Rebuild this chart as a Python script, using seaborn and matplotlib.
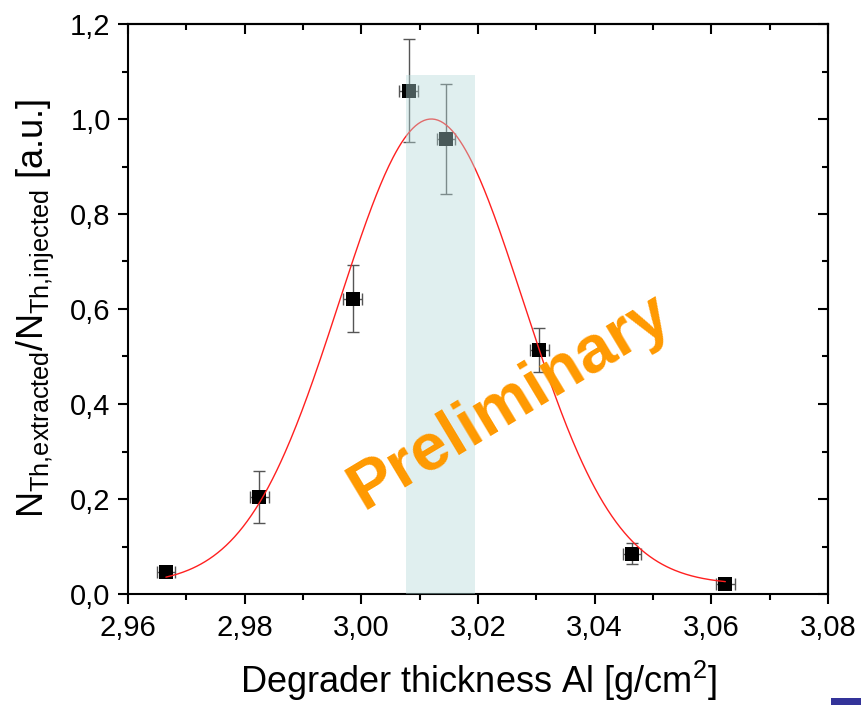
import numpy as np
import pandas as pd
import matplotlib
matplotlib.use("Agg")
import matplotlib.pyplot as plt
from matplotlib.patches import Rectangle
from matplotlib.ticker import FuncFormatter, MultipleLocator
import seaborn as sns

# Measured transmission vs. degrader thickness
thickness = [2.9665, 2.9825, 2.9985, 3.0081, 3.0145, 3.0305, 3.0464, 3.0624]
ratio = [0.046, 0.205, 0.622, 1.060, 0.958, 0.514, 0.085, 0.022]
ratio_err = [0.010, 0.055, 0.070, 0.108, 0.115, 0.046, 0.022, 0.006]
thickness_err = [0.0016] * 8

# Gaussian fit parameters
fit_offset = 0.02
fit_amplitude = 0.98
fit_centre = 3.012
fit_sigma = 0.0158

# Selected thickness window
window_lo, window_hi, window_top = 3.0077, 3.0195, 1.093

df = pd.DataFrame({"thickness": thickness, "ratio": ratio,
                   "ratio_err": ratio_err, "thickness_err": thickness_err})

xfit = np.linspace(min(thickness), max(thickness), 400)
fit_df = pd.DataFrame({
    "thickness": xfit,
    "ratio": fit_offset + fit_amplitude * np.exp(-(xfit - fit_centre) ** 2 / (2 * fit_sigma ** 2)),
})

sns.set_theme(style="ticks")
plt.rcParams["font.family"] = ["Liberation Sans", "DejaVu Sans"]
plt.rcParams["mathtext.fontset"] = "custom"
plt.rcParams["mathtext.rm"] = "Liberation Sans"
plt.rcParams["mathtext.it"] = "Liberation Sans"
plt.rcParams["axes.linewidth"] = 1.5
plt.rcParams["text.color"] = "black"
plt.rcParams["axes.labelcolor"] = "black"

fig = plt.figure(figsize=(8.62, 7.05), dpi=100)
ax = fig.add_axes([128 / 862, 1 - 594 / 705, 700 / 862, 570 / 705])

ax.errorbar(df["thickness"], df["ratio"], yerr=df["ratio_err"], xerr=df["thickness_err"],
            fmt="none", ecolor="#555555", elinewidth=1.0, capsize=4.5, capthick=1.0, zorder=2)
sns.scatterplot(data=df, x="thickness", y="ratio", marker="s", s=95, color="black",
                edgecolor="black", linewidth=0, ax=ax, zorder=3, legend=False)
sns.lineplot(data=fit_df, x="thickness", y="ratio", color="#ff2020", linewidth=1.0,
             ax=ax, zorder=4, legend=False)

ax.add_patch(Rectangle((window_lo, 0), window_hi - window_lo, window_top,
                       facecolor="#b4dada", alpha=0.41, edgecolor="none", zorder=5))

ax.text(3.0255, 0.405, "Preliminary", color="#ff9900", fontsize=48, fontweight="bold",
        rotation=31, ha="center", va="center", rotation_mode="anchor", zorder=6)

ax.set_xlim(2.96, 3.08)
ax.set_ylim(0.0, 1.2)
ax.xaxis.set_major_locator(MultipleLocator(0.02))
ax.xaxis.set_minor_locator(MultipleLocator(0.01))
ax.yaxis.set_major_locator(MultipleLocator(0.2))
ax.yaxis.set_minor_locator(MultipleLocator(0.1))
ax.xaxis.set_major_formatter(FuncFormatter(lambda v, p: f"{v:.2f}".replace(".", ",")))
ax.yaxis.set_major_formatter(FuncFormatter(lambda v, p: f"{v:.1f}".replace(".", ",")))

ax.tick_params(which="major", direction="out", length=7.5, width=1.5, labelsize=21,
               colors="black", labelcolor="black", top=False, right=False)
ax.tick_params(axis="x", which="major", pad=7)
ax.tick_params(axis="y", which="major", pad=5)
ax.tick_params(which="minor", direction="out", length=4.5, width=1.5, colors="black",
               top=False, right=False)

# Inward ticks on the top and right frame
top = ax.secondary_xaxis("top")
top.xaxis.set_major_locator(MultipleLocator(0.02))
top.xaxis.set_minor_locator(MultipleLocator(0.01))
top.tick_params(which="major", direction="in", length=7.5, width=1.5, colors="black", labeltop=False)
top.tick_params(which="minor", direction="in", length=4.5, width=1.5, colors="black")
right = ax.secondary_yaxis("right")
right.yaxis.set_major_locator(MultipleLocator(0.2))
right.yaxis.set_minor_locator(MultipleLocator(0.1))
right.tick_params(which="major", direction="in", length=7.5, width=1.5, colors="black", labelright=False)
right.tick_params(which="minor", direction="in", length=4.5, width=1.5, colors="black")
for sec in (top, right):
    for sp in sec.spines.values():
        sp.set_linewidth(1.5)
        sp.set_color("black")

for sp in ax.spines.values():
    sp.set_visible(True)
    sp.set_linewidth(1.5)
    sp.set_color("black")

ax.set_xlabel(r"Degrader thickness Al [g/cm$^{2}$]", fontsize=26, labelpad=12, color="black")
ax.set_ylabel(r"N$_{\mathrm{Th{,}extracted}}$/N$_{\mathrm{Th{,}injected}}$ [a.u.]",
              fontsize=26, labelpad=10, color="black")

fig.patches.append(Rectangle((831 / 862, 0), 31 / 862, 7 / 705, transform=fig.transFigure,
                             facecolor="#333399", edgecolor="none", figure=fig))

fig.savefig("out.png", dpi=100)
